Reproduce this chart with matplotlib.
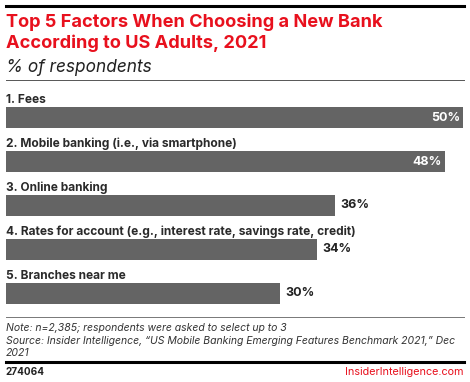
import matplotlib
matplotlib.use("Agg")
import matplotlib.pyplot as plt
from matplotlib.lines import Line2D

categories = ["1. Fees", "2. Mobile banking (i.e., via smartphone)", "3. Online banking",
              "4. Rates for account (e.g., interest rate, savings rate, credit)", "5. Branches near me"]
values = [50, 48, 36, 34, 30]
value_labels = ["50%", "48%", "36%", "34%", "30%"]

W, H = 470, 382
fig = plt.figure(figsize=(W / 100, H / 100), dpi=100)
FONT = "Inter"
RED = "#e8101d"
BAR = "#646464"

def fx(px):
    return px / W

def fy(py):
    return 1 - py / H

renderer = fig.canvas.get_renderer()

def fit(t, target_px):
    for _ in range(3):
        w = t.get_window_extent(renderer).width
        t.set_fontsize(t.get_fontsize() * target_px / w)

# rules
fig.add_artist(Line2D([fx(6), fx(464)], [fy(6), fy(6)], color="black", lw=2.2))
fig.add_artist(Line2D([fx(6), fx(464)], [fy(80), fy(80)], color="#555555", lw=0.7))
fig.add_artist(Line2D([fx(6), fx(464)], [fy(317), fy(317)], color="#777777", lw=0.7))
fig.add_artist(Line2D([fx(6), fx(464)], [fy(362), fy(362)], color="black", lw=2.2))

t1 = fig.text(fx(6), fy(22), "Top 5 Factors When Choosing a New Bank", color=RED, fontsize=12.5,
              fontweight="bold", family=FONT, va="center", ha="left")
t2 = fig.text(fx(6), fy(43), "According to US Adults, 2021", color=RED, fontsize=12.5,
              fontweight="bold", family=FONT, va="center", ha="left")
fit(t1, 376)
fit(t2, 261)
s = (t1.get_fontsize() + t2.get_fontsize()) / 2
t1.set_fontsize(s)
t2.set_fontsize(s)
st = fig.text(fx(6), fy(67), "% of respondents", color="#222222", fontsize=11.5,
              style="italic", family=FONT, va="center", ha="left")
fit(st, 146)

ax = fig.add_axes([fx(6), fy(315), fx(463) - fx(6), fy(85) - fy(315)])
ypos = list(range(len(categories)))
ax.barh(ypos, values, height=0.48, color=BAR, align="center")
ax.set_xlim(0, 50)
ax.set_ylim(4.489, -0.739)
ax.axis("off")
cat_texts = []
for i, (c, v, lab) in enumerate(zip(categories, values, value_labels)):
    cat_texts.append(ax.text(0, i - 0.4, c, ha="left", va="center", fontsize=9.5, fontweight="bold",
                             family=FONT, color="#2a2a2a"))
    if v >= 40:
        ax.text(v - 0.3, i, lab, ha="right", va="center", fontsize=9, fontweight="bold",
                family=FONT, color="white")
    else:
        ax.text(v + 0.6, i, lab, ha="left", va="center", fontsize=9, fontweight="bold",
                family=FONT, color="#222222")
fit(cat_texts[3], 350)
for t in cat_texts:
    t.set_fontsize(cat_texts[3].get_fontsize())

n1 = fig.text(fx(6), fy(328), "Note: n=2,385; respondents were asked to select up to 3", fontsize=8.3,
              style="italic", family=FONT, color="#333333", va="center")
n2 = fig.text(fx(6), fy(341), "Source: Insider Intelligence, \u201cUS Mobile Banking Emerging Features Benchmark 2021,\u201d Dec",
              fontsize=8.3, style="italic", family=FONT, color="#333333", va="center")
fit(n2, 452)
n3 = fig.text(fx(6), fy(353), "2021", fontsize=n2.get_fontsize(), style="italic", family=FONT,
              color="#333333", va="center")
n1.set_fontsize(n2.get_fontsize())
fig.text(fx(6), fy(372), "274064", fontsize=7.2, fontweight="bold", family=FONT, color="#222222", va="center")
fig.text(fx(464), fy(372), "InsiderIntelligence.com", fontsize=7.8, family=FONT, color=RED,
         va="center", ha="right")

fig.savefig("out.png", dpi=100, facecolor="white")
